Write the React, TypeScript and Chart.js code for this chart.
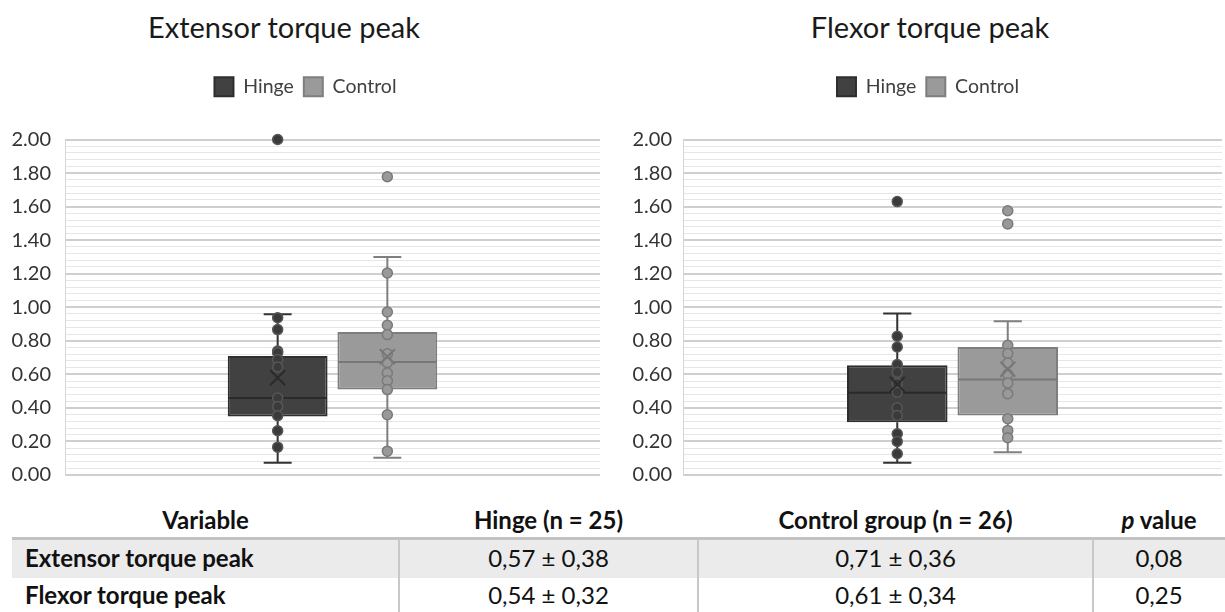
import React, { useEffect, useRef } from 'react';
import { Chart, registerables } from 'chart.js';

Chart.register(...registerables);

// ---------- data ----------
const seriesNames = ['Hinge', 'Control'];
const chartTitles = ['Extensor torque peak', 'Flexor torque peak'];

// [lower whisker, Q1, median, Q3, upper whisker]
const extHingeStats = [0.073, 0.349, 0.459, 0.709, 0.958];
const extHingeMean = 0.58;
const extHingePoints = [2.0, 0.938, 0.867, 0.739, 0.729, 0.688, 0.644, 0.459, 0.409, 0.353, 0.264, 0.166];

const extControlStats = [0.103, 0.51, 0.673, 0.853, 1.3];
const extControlMean = 0.705;
const extControlPoints = [1.778, 1.204, 0.972, 0.893, 0.837, 0.723, 0.67, 0.608, 0.562, 0.509, 0.359, 0.142];

const flexHingeStats = [0.073, 0.315, 0.491, 0.654, 0.962];
const flexHingeMean = 0.54;
const flexHingePoints = [1.63, 0.827, 0.763, 0.658, 0.612, 0.546, 0.494, 0.401, 0.355, 0.246, 0.2, 0.127];

const flexControlStats = [0.136, 0.355, 0.57, 0.763, 0.916];
const flexControlMean = 0.63;
const flexControlPoints = [1.575, 1.497, 0.773, 0.724, 0.668, 0.6, 0.548, 0.485, 0.336, 0.266, 0.222];

const yMin = 0;
const yMax = 2;
const yMinorStep = 0.04;

// table
const tableHeaders = ['Variable', 'Hinge (n = 25)', 'Control group (n = 26)', 'value'];
const tableVariables = ['Extensor torque peak', 'Flexor torque peak'];
const tableHinge = ['0,57 ± 0,38', '0,54 ± 0,32'];
const tableControl = ['0,71 ± 0,36', '0,61 ± 0,34'];
const tableP = ['0,08', '0,25'];

// ---------- styles ----------
const FONT = 'Lato, "Open Sans", sans-serif';
const hingeStyle = { fill: '#414141', border: '#2e2e2e', whisker: '#333333', median: '#2a2a2a', pointFill: '#3a3a3a', pointBorder: '#575757' };
const controlStyle = { fill: '#9a9a9a', border: '#7e7e7e', whisker: '#808080', median: '#777777', pointFill: '#999999', pointBorder: '#7a7a7a' };

const isMajor = (v: number) => Math.abs(v * 5 - Math.round(v * 5)) < 1e-6;

const boxPlugin = {
  id: 'boxWhisker',
  beforeDatasetsDraw(chart: any) {
    const y = chart.scales.y;
    const ctx = chart.ctx;
    chart.data.datasets.forEach((ds: any, i: number) => {
      const el = chart.getDatasetMeta(i).data[0];
      if (!el) return;
      const { x, width } = el.getProps(['x', 'width'], true);
      const [lo, q1, , q3, hi] = ds.stats;
      const cap = width * 0.28;
      ctx.save();
      ctx.strokeStyle = ds.st.whisker;
      ctx.lineWidth = 2;
      ctx.beginPath();
      ctx.moveTo(x, y.getPixelForValue(hi));
      ctx.lineTo(x, y.getPixelForValue(q3));
      ctx.moveTo(x, y.getPixelForValue(q1));
      ctx.lineTo(x, y.getPixelForValue(lo));
      ctx.moveTo(x - cap / 2, y.getPixelForValue(hi));
      ctx.lineTo(x + cap / 2, y.getPixelForValue(hi));
      ctx.moveTo(x - cap / 2, y.getPixelForValue(lo));
      ctx.lineTo(x + cap / 2, y.getPixelForValue(lo));
      ctx.stroke();
      ctx.restore();
    });
  },
  afterDatasetsDraw(chart: any) {
    const y = chart.scales.y;
    const ctx = chart.ctx;
    chart.data.datasets.forEach((ds: any, i: number) => {
      const el = chart.getDatasetMeta(i).data[0];
      if (!el) return;
      const { x, width } = el.getProps(['x', 'width'], true);
      const med = ds.stats[2];
      ctx.save();
      ctx.strokeStyle = ds.st.median;
      ctx.lineWidth = 2;
      ctx.beginPath();
      ctx.moveTo(x - width / 2 + 1, y.getPixelForValue(med));
      ctx.lineTo(x + width / 2 - 1, y.getPixelForValue(med));
      ctx.stroke();
      ds.points.forEach((v: number) => {
        ctx.beginPath();
        ctx.arc(x, y.getPixelForValue(v), 5, 0, Math.PI * 2);
        ctx.fillStyle = ds.st.pointFill;
        ctx.fill();
        ctx.lineWidth = 1.5;
        ctx.strokeStyle = ds.st.pointBorder;
        ctx.stroke();
      });
      const my = y.getPixelForValue(ds.mean);
      const s = 7.5;
      ctx.strokeStyle = ds.st.median;
      ctx.lineWidth = 2;
      ctx.beginPath();
      ctx.moveTo(x - s, my - s);
      ctx.lineTo(x + s, my + s);
      ctx.moveTo(x + s, my - s);
      ctx.lineTo(x - s, my + s);
      ctx.stroke();
      ctx.restore();
    });
  },
};

const legendMargin = (extra: number) => ({
  id: 'legendMargin',
  beforeInit(chart: any) {
    const legend = chart.legend;
    if (!legend) return;
    const orig = legend.fit;
    legend.fit = function () {
      orig.call(this);
      this.height += extra;
    };
  },
});

type BoxProps = {
  width: number;
  height: number;
  yAxisWidth: number;
  rightWidth: number;
  labelPad: number;
  hStats: number[]; hMean: number; hPoints: number[];
  cStats: number[]; cMean: number; cPoints: number[];
};

function BoxChart(p: BoxProps) {
  const ref = useRef<HTMLCanvasElement | null>(null);
  useEffect(() => {
    if (!ref.current) return;
    const mk = (name: string, stats: number[], mean: number, points: number[], st: any) => ({
      label: name,
      data: [[stats[1], stats[3]]],
      backgroundColor: st.fill,
      borderColor: st.border,
      borderWidth: 2,
      borderSkipped: false,
      categoryPercentage: 0.41,
      barPercentage: 0.91,
      stats, mean, points, st,
    });
    const chart = new Chart(ref.current, {
      type: 'bar',
      data: {
        labels: [''],
        datasets: [
          mk(seriesNames[0], p.hStats, p.hMean, p.hPoints, hingeStyle),
          mk(seriesNames[1], p.cStats, p.cMean, p.cPoints, controlStyle),
        ] as any,
      },
      options: {
        animation: false,
        responsive: false,
        devicePixelRatio: 1,
        layout: { padding: { top: 67, bottom: 0, left: 0, right: 0 } },
        plugins: {
          tooltip: { enabled: false },
          title: { display: false },
          legend: {
            display: true,
            position: 'top',
            labels: {
              font: { family: FONT, size: 19.5 },
              color: '#404040',
              boxWidth: 19,
              boxHeight: 19,
              padding: 10,
            },
          },
        },
        scales: {
          x: { display: false, grid: { display: false } },
          y: {
            min: yMin,
            max: yMax,
            ticks: {
              stepSize: yMinorStep,
              autoSkip: false,
              padding: p.labelPad,
              color: '#333333',
              font: { family: FONT, size: 20 },
              callback: (v: any) => (isMajor(Number(v)) ? Number(v).toFixed(2) : ''),
            },
            grid: {
              drawTicks: false,
              color: (c: any) => (isMajor(c.tick.value) ? '#cfcfcf' : '#e6e6e6'),
              lineWidth: (c: any) => (isMajor(c.tick.value) ? 2 : 1),
            },
            border: { display: true, color: '#d6d6d6', width: 1 },
            afterFit: (s: any) => { s.width = p.yAxisWidth; },
          },
          y2: {
            position: 'right',
            display: true,
            ticks: { display: false },
            grid: { display: false },
            border: { display: false },
            afterFit: (s: any) => { s.width = p.rightWidth; },
          },
        },
      } as any,
      plugins: [boxPlugin, legendMargin(33)],
    });
    return () => chart.destroy();
  }, []);
  return <canvas ref={ref} width={p.width} height={p.height} style={{ width: p.width, height: p.height, display: 'block' }} />;
}

const cellText: React.CSSProperties = {
  position: 'absolute',
  fontFamily: FONT,
  fontSize: 24,
  color: '#111',
  whiteSpace: 'nowrap',
  lineHeight: '28px',
};

export default function App() {
  const colBounds = [12, 399, 698, 1093, 1225];
  const center = (i: number) => (colBounds[i] + colBounds[i + 1]) / 2;
  const rowY = [520, 558, 595];
  const cell = (text: React.ReactNode, cx: number, cy: number, bold: boolean, key: string) => (
    <div key={key} style={{ ...cellText, left: cx - 200, width: 400, top: cy - 14, textAlign: 'center', fontWeight: bold ? 700 : 400 }}>{text}</div>
  );
  return (
    <div style={{ position: 'absolute', left: 0, top: 0, width: 1225, height: 612, background: '#fff', overflow: 'hidden' }}>
      <div style={{ position: 'absolute', left: 284 - 250, width: 500, top: 9, textAlign: 'center', fontFamily: FONT, fontSize: 29, color: '#1a1a1a', lineHeight: '36px' }}>{chartTitles[0]}</div>
      <div style={{ position: 'absolute', left: 930 - 250, width: 500, top: 9, textAlign: 'center', fontFamily: FONT, fontSize: 29, color: '#1a1a1a', lineHeight: '36px' }}>{chartTitles[1]}</div>

      <div style={{ position: 'absolute', left: 0, top: 0 }}>
        <BoxChart width={611} height={501} yAxisWidth={65} rightWidth={11} labelPad={14}
          hStats={extHingeStats} hMean={extHingeMean} hPoints={extHingePoints}
          cStats={extControlStats} cMean={extControlMean} cPoints={extControlPoints} />
      </div>
      <div style={{ position: 'absolute', left: 631, top: 0 }}>
        <BoxChart width={594} height={498} yAxisWidth={52} rightWidth={3} labelPad={11}
          hStats={flexHingeStats} hMean={flexHingeMean} hPoints={flexHingePoints}
          cStats={flexControlStats} cMean={flexControlMean} cPoints={flexControlPoints} />
      </div>

      <div style={{ position: 'absolute', left: 12, top: 540, width: 1213, height: 38, background: '#ebebeb' }} />
      <div style={{ position: 'absolute', left: 12, top: 537, width: 1213, height: 3, background: '#c2c2c2' }} />
      {[1, 2, 3].map((i) => (
        <div key={'v' + i} style={{ position: 'absolute', left: colBounds[i] - 1, top: 540, width: 2, height: 72, background: '#c8c8c8' }} />
      ))}
      {cell(tableHeaders[0], center(0), rowY[0], true, 'h0')}
      {cell(tableHeaders[1], center(1), rowY[0], true, 'h1')}
      {cell(tableHeaders[2], center(2), rowY[0], true, 'h2')}
      {cell(<span><i>p</i> {tableHeaders[3]}</span>, center(3), rowY[0], true, 'h3')}
      {tableVariables.map((v, r) => (
        <div key={'var' + r} style={{ ...cellText, left: 25, top: rowY[r + 1] - 14, fontWeight: 700 }}>{v}</div>
      ))}
      {tableHinge.map((v, r) => cell(v, center(1), rowY[r + 1], false, 'hi' + r))}
      {tableControl.map((v, r) => cell(v, center(2), rowY[r + 1], false, 'co' + r))}
      {tableP.map((v, r) => cell(v, center(3), rowY[r + 1], false, 'p' + r))}
    </div>
  );
}
